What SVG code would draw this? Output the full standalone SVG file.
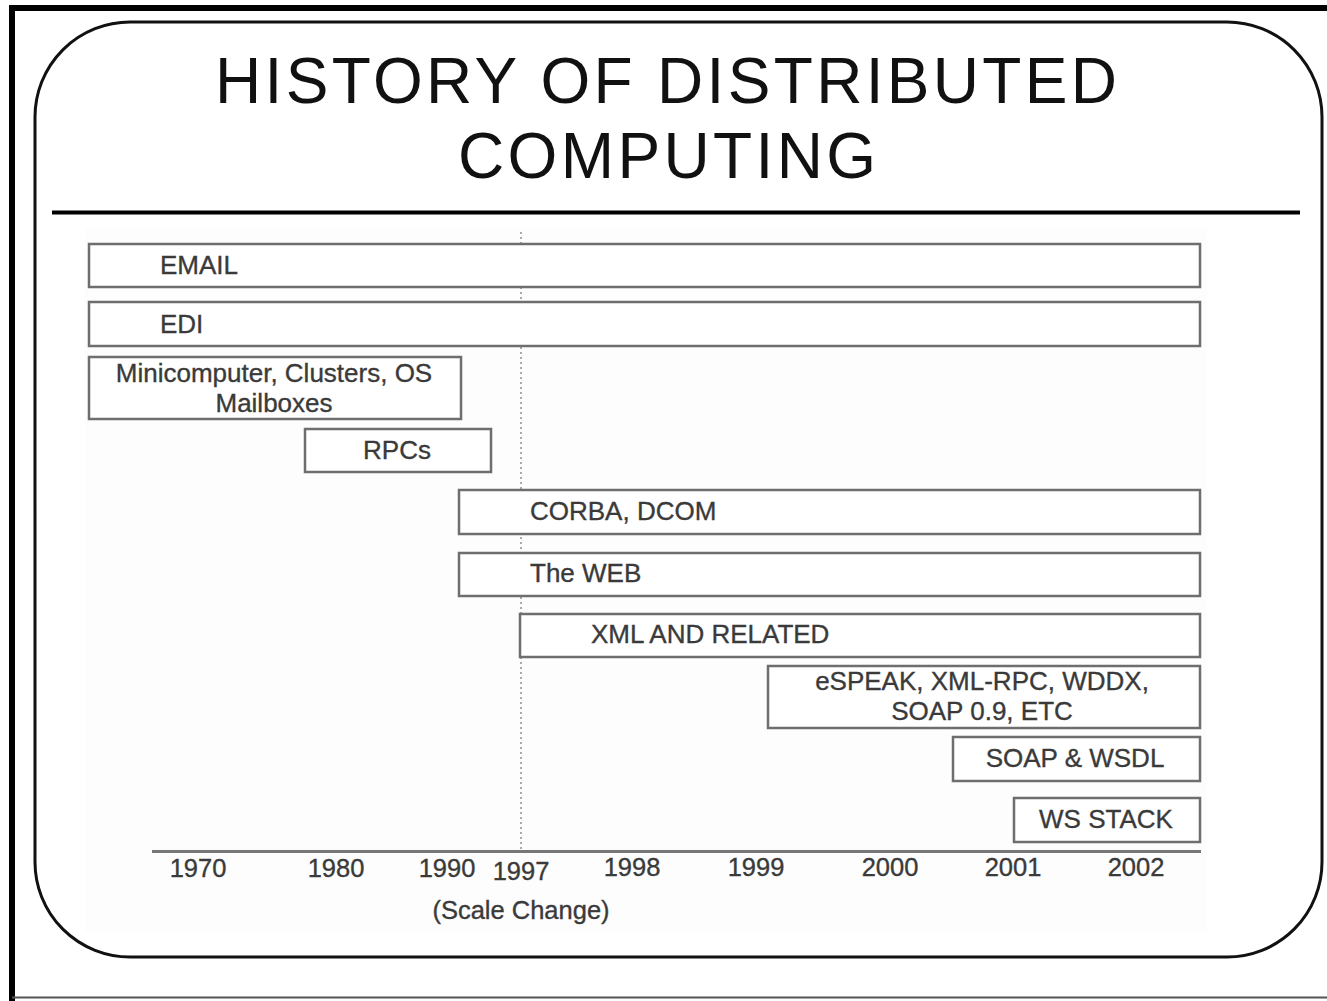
<svg xmlns="http://www.w3.org/2000/svg" width="1327" height="1001" viewBox="0 0 1327 1001">
<style>
.box{fill:#fff;stroke:#6e6e6e;stroke-width:2.5}
.lbl{font-family:"Liberation Sans",Arial,sans-serif;font-size:26px;fill:#3a3a3a;stroke:#3a3a3a;stroke-width:0.35}
.mid{text-anchor:middle}
.yr{font-family:"Liberation Sans",Arial,sans-serif;font-size:25.5px;fill:#3a3a3a;stroke:#3a3a3a;stroke-width:0.35;text-anchor:middle}
.title{font-family:"Liberation Sans",Arial,sans-serif;font-size:64px;fill:#111;text-anchor:middle}
</style>
<rect width="1327" height="1001" fill="#fff"/>
<g id="frame">
<line x1="9" y1="8" x2="1327" y2="8" stroke="#000" stroke-width="6"/>
<line x1="12" y1="5" x2="12" y2="1001" stroke="#000" stroke-width="6"/>
<line x1="12" y1="997.5" x2="1327" y2="997.5" stroke="#555" stroke-width="2"/>
<rect x="35" y="22" width="1287" height="935" rx="95" ry="95" fill="#fff" stroke="#111" stroke-width="3"/>
</g>
<g id="title">
<text class="title" x="666" y="103" textLength="902" lengthAdjust="spacing">HISTORY OF DISTRIBUTED</text>
<text class="title" x="667" y="178" textLength="418" lengthAdjust="spacing">COMPUTING</text>
<line x1="52" y1="212.5" x2="1300" y2="212.5" stroke="#000" stroke-width="4"/>
</g>
<rect x="85" y="228" width="1122" height="704" fill="#fdfdfd"/>
<g id="connectors">
<line x1="521" y1="232" x2="521" y2="850" stroke="#aaa" stroke-width="2" stroke-dasharray="2,3"/>
<line x1="152" y1="851.5" x2="1201" y2="851.5" stroke="#777" stroke-width="3"/>
</g>
<g id="email"><rect class="box" x="89" y="244" width="1111" height="43"/><text class="lbl" x="160" y="274">EMAIL</text></g>
<g id="edi"><rect class="box" x="89" y="302" width="1111" height="44"/><text class="lbl" x="160" y="333">EDI</text></g>
<g id="minicomputer"><rect class="box" x="89" y="357" width="372" height="62"/><text class="lbl mid" x="274" y="382">Minicomputer, Clusters, OS</text><text class="lbl mid" x="274" y="412">Mailboxes</text></g>
<g id="rpcs"><rect class="box" x="305" y="429" width="186" height="43"/><text class="lbl mid" x="397" y="459">RPCs</text></g>
<g id="corba"><rect class="box" x="459" y="490" width="741" height="44"/><text class="lbl" x="530" y="520">CORBA, DCOM</text></g>
<g id="web"><rect class="box" x="459" y="553" width="741" height="43"/><text class="lbl" x="530" y="582">The WEB</text></g>
<g id="xml"><rect class="box" x="520" y="614" width="680" height="43"/><text class="lbl" x="591" y="643">XML AND RELATED</text></g>
<g id="espeak"><rect class="box" x="768" y="666" width="432" height="62"/><text class="lbl mid" x="982" y="690">eSPEAK, XML-RPC, WDDX,</text><text class="lbl mid" x="982" y="720">SOAP 0.9, ETC</text></g>
<g id="soap"><rect class="box" x="953" y="737" width="247" height="44"/><text class="lbl mid" x="1075" y="767">SOAP &amp; WSDL</text></g>
<g id="wsstack"><rect class="box" x="1014" y="798" width="186" height="44"/><text class="lbl mid" x="1106" y="828">WS STACK</text></g>
<g id="axis">
<text class="yr" x="198" y="877">1970</text>
<text class="yr" x="336" y="877">1980</text>
<text class="yr" x="447" y="877">1990</text>
<text class="yr" x="521" y="880">1997</text>
<text class="yr" x="632" y="876">1998</text>
<text class="yr" x="756" y="876">1999</text>
<text class="yr" x="890" y="876">2000</text>
<text class="yr" x="1013" y="876">2001</text>
<text class="yr" x="1136" y="876">2002</text>
<text class="yr" x="521" y="919">(Scale Change)</text>
</g>
</svg>
